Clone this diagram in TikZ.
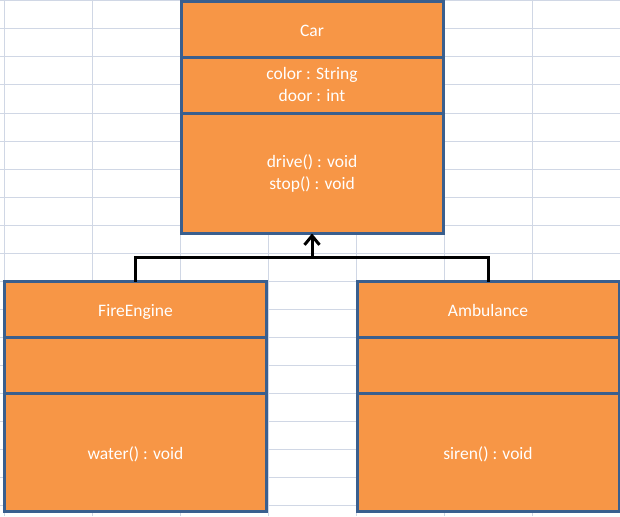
\documentclass[tikz,border=0pt]{standalone}
\usepackage{fontspec}
\setmainfont{Carlito}
\usetikzlibrary{arrows.meta, positioning, calc}
\usepackage{xcolor}
\definecolor{umlFill}{HTML}{F79646}
\definecolor{umlEdge}{HTML}{3A5F8E}
\definecolor{gridLine}{HTML}{D0D7E5}
\newcommand{\partStrut}{\rule[-2.5pt]{0pt}{19.5pt}}
\tikzset{
    % Compartments
    part/.style={rectangle, draw=umlEdge, fill=umlFill, line width=3pt,
                 outer sep=0pt, inner sep=0pt, minimum width=262pt,
                 align=center, text=white,
                 font=\fontsize{17.5}{22}\selectfont,
                 execute at begin node=\partStrut,
                 execute at end node=\partStrut},
    namePart/.style={part, minimum height=56pt},
    attrPart/.style={part, minimum height=56pt},
    opsPart/.style={part, minimum height=120pt},
    % Grid & Links
    sheet/.style={draw=gridLine, line width=1pt},
    link/.style={draw=black, line width=3pt},
    inherit/.style={link, -{Straight Barb[length=9pt, width=15pt]}}
}

\begin{document}
\begin{tikzpicture}[x=1pt, y=-1pt, node distance=0pt]
\useasboundingbox (0,0) rectangle (620,516);

% spreadsheet background
\foreach \gx in {4,92,...,532} \draw[sheet] (\gx,0) -- (\gx,516);
\foreach \gy in {1,29,...,505} \draw[sheet] (0,\gy) -- (620,\gy);

% Car
\node[namePart, anchor=north west] (car) at (181,1.5) {Car};
\node[attrPart, below=of car] (carAttr) {color : String\\door : int};
\node[opsPart, below=of carAttr] (carOps) {drive() : void\\stop() : void};

% FireEngine
\node[namePart, anchor=north west] (fire) at (4.5,281.5) {FireEngine};
\node[attrPart, below=of fire] (fireAttr) {};
\node[opsPart, minimum height=118pt, below=of fireAttr] (fireOps) {water() : void};

% Ambulance
\node[namePart, anchor=north west] (amb) at (357,281.5) {Ambulance};
\node[attrPart, below=of amb] (ambAttr) {};
\node[opsPart, minimum height=118pt, below=of ambAttr] (ambOps) {siren() : void};

% generalisation
\coordinate (joint) at ($(carOps.south)+(0,24)$);
\draw[link] (fire.north) |- (joint) -| (amb.north);
\draw[inherit] (joint) -- (carOps.south);

\end{tikzpicture}
\end{document}
